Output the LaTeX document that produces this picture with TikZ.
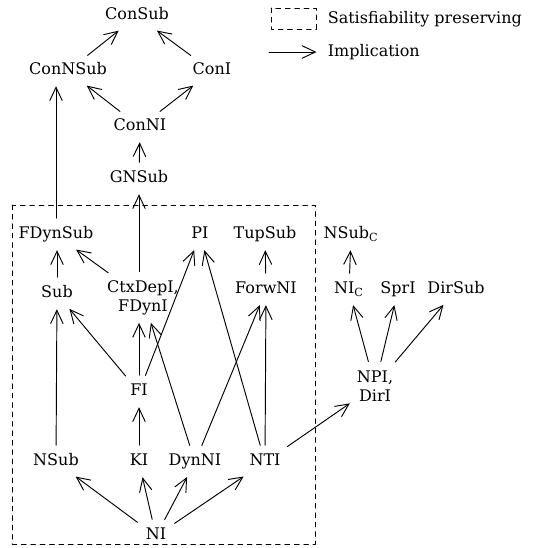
\documentclass[tikz,border=0pt]{standalone}
\usepackage{fontspec}
\setmainfont{DejaVu Serif}
\usetikzlibrary{arrows.meta, calc}

\begin{document}
\begin{tikzpicture}[line cap=round,line join=round,>={Straight Barb[length=8.5pt,width=8pt]},x=0.0224cm,y=-0.0224cm]
\tikzstyle{every node}=[inner sep=3.5pt, font=\fontsize{10.2}{12.5}\selectfont]
\tikzstyle{lbl}=[text height=0.75em, text depth=0.25em]
\tikzstyle{lbltwo}=[align=center]
\tikzstyle{imp}=[->, line width=0.6pt, shorten >=1pt, shorten <=2pt]
\tikzstyle{boxdash}=[line width=0.6pt, dash pattern=on 3pt off 3pt]
\useasboundingbox (0,0) rectangle (548,547);
% top part
\node[lbl] (consub) at (137,16) {ConSub};
\node[lbl] (connsub) at (68,71) {ConNSub};
\node[lbl] (coni) at (212,71) {ConI};
\node[lbl] (conni) at (140,127) {ConNI};
\node[lbl] (gnsub) at (139,179) {GNSub};
% satisfiability preserving block
\node[lbl] (fdynsub) at (56,235) {FDynSub};
\node[lbl] (pi) at (200,235) {PI};
\node[lbl] (tupsub) at (265,235) {TupSub};
\node[lbl] (sub) at (57,294) {Sub};
\node[lbltwo] (ctx) at (143,298) {CtxDepI,\\FDynI};
\node[lbl] (forwni) at (266,290) {ForwNI};
\node[lbl] (fi) at (139,392) {FI};
\node[lbl] (nsub) at (56,462) {NSub};
\node[lbl] (ki) at (139,462) {KI};
\node[lbl] (dynni) at (195,462) {DynNI};
\node[lbl] (nti) at (265,462) {NTI};
\node[lbl] (ni) at (156,536) {NI};
% right part
\node[lbl] (nsubc) at (351,235) {NSub\textsubscript{C}};
\node[lbl] (nic) at (349,290) {NI\textsubscript{C}};
\node[lbl] (spri) at (398,290) {SprI};
\node[lbl] (dirsub) at (456,290) {DirSub};
\node[lbltwo] (npi) at (375,386) {NPI,\\DirI};
\draw[boxdash] (12,205) rectangle (315,544);
% implications
\draw[imp] (connsub) -- (consub);
\draw[imp] (coni) -- (consub);
\draw[imp] (conni) -- (connsub);
\draw[imp] (conni) -- (coni);
\draw[imp] (gnsub) -- (conni);
\draw[imp] (ctx.north -| gnsub) -- (gnsub);
\draw[imp] (fdynsub.north) -- (fdynsub.north |- connsub.south);
\draw[imp] (sub) -- (sub |- fdynsub.south);
\draw[imp] (ctx) -- (fdynsub);
\draw[imp] (forwni) -- (tupsub);
\draw[imp] (nsub) -- (sub);
\draw[imp] (fi) -- (sub);
\draw[imp] (fi) -- (fi |- ctx.south);
\draw[imp] (fi) -- (pi);
\draw[imp] (dynni) -- (ctx);
\draw[imp] (dynni) -- (forwni);
\draw[imp] (nti) -- (pi);
\draw[imp] (nti) -- (forwni);
\draw[imp] (ki) -- (fi);
\draw[imp] (ni) -- (nsub);
\draw[imp] (ni) -- (ki);
\draw[imp] (ni) -- (dynni);
\draw[imp] (ni) -- (nti);
\draw[imp] (nti) -- (npi);
\draw[imp] (npi) -- (nic);
\draw[imp] (npi) -- (spri);
\draw[imp] (npi) -- (dirsub);
\draw[imp] (nic) -- (nsubc);
% legend
\draw[boxdash] (271,8) rectangle (316,29);
\node[anchor=west] (sattext) at (322,19) {Satisfiability preserving};
\coordinate (impstart) at (269,52);
\node[anchor=west] (imptext) at (322,52) {Implication};
\draw[imp, shorten >=3.5pt, shorten <=0pt] (impstart) -- (imptext.west);
\end{tikzpicture}
\end{document}
